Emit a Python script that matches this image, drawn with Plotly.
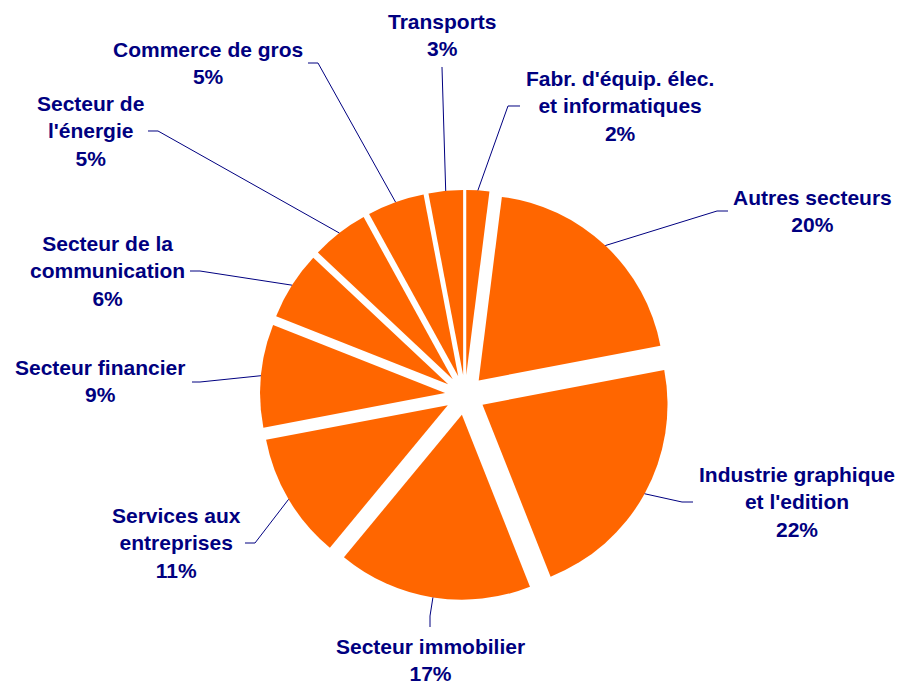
import math
import plotly.graph_objects as go

# ---- data ----
sectors = [
    "Fabr. d'équip. élec.<br>et informatiques",
    "Autres secteurs",
    "Industrie graphique<br>et l'edition",
    "Secteur immobilier",
    "Services aux<br>entreprises",
    "Secteur financier",
    "Secteur de la<br>communication",
    "Secteur de<br>l'énergie",
    "Commerce de gros",
    "Transports",
]
shares = [2, 20, 22, 17, 11, 9, 6, 5, 5, 3]

# ---- layout (pixels) ----
W, H = 900, 684
CX, CY = 465, 395          # pie centre
R = 185                    # radius
PULL = 0.108
HALF = R * (1 + PULL)
NAVY = "#000080"
ORANGE = "#FF6600"

# label block centres and leader-line bends (label side first)
label_pos = [(620, 106), (812, 211), (797, 502), (430, 660), (176, 543),
             (100, 381), (107, 271), (90, 131), (208, 63), (442, 35)]
leader_pts = [
    [(520, 106), (508, 106)],
    [(728, 211), (717, 211)],
    [(693, 502), (682, 502)],
    [(430, 627), (430, 616)],
    [(245, 543), (255, 543)],
    [(192, 382), (200, 382)],
    [(190, 271), (200, 271)],
    [(148, 131), (158, 131)],
    [(308, 63), (318, 63)],
    [(442, 67)],
]

def px(x):
    return x / W

def py(y):
    return 1 - y / H

fig = go.Figure(go.Pie(
    labels=[s.replace("<br>", " ") for s in sectors],
    values=shares,
    sort=False,
    direction="clockwise",
    rotation=0,
    pull=[PULL] * len(shares),
    marker=dict(colors=[ORANGE] * len(shares), line=dict(width=0)),
    textinfo="none",
    hoverinfo="label+percent",
    showlegend=False,
    domain=dict(x=[px(CX - HALF), px(CX + HALF)],
                y=[py(CY + HALF), py(CY - HALF)]),
))

total = sum(shares)
cum = 0
shapes = []
annotations = []
for name, v, lp, pts in zip(sectors, shares, label_pos, leader_pts):
    mid = (cum + v / 2) / total * 2 * math.pi
    cum += v
    ax = CX + R * (1 + PULL) * math.sin(mid)
    ay = CY - R * (1 + PULL) * math.cos(mid)
    allp = pts + [(ax, ay)]
    path = "M " + " L ".join(f"{px(x):.5f},{py(y):.5f}" for x, y in allp)
    shapes.append(dict(type="path", path=path, xref="paper", yref="paper",
                       line=dict(color=NAVY, width=1)))
    annotations.append(dict(
        x=px(lp[0]), y=py(lp[1]), xref="paper", yref="paper",
        text=f"{name}<br>{v}%", showarrow=False,
        xanchor="center", yanchor="middle", align="center",
        font=dict(family="Liberation Sans, Arial, sans-serif", size=21,
                  color=NAVY, weight="bold"),
    ))

fig.update_layout(
    width=W, height=H,
    margin=dict(l=0, r=0, t=0, b=0),
    paper_bgcolor="white", plot_bgcolor="white",
    shapes=shapes, annotations=annotations,
)

fig.write_html(
    "out.html",
    config={"displayModeBar": False},
    post_script="document.body.style.margin='0';document.body.style.overflow='hidden';",
)
